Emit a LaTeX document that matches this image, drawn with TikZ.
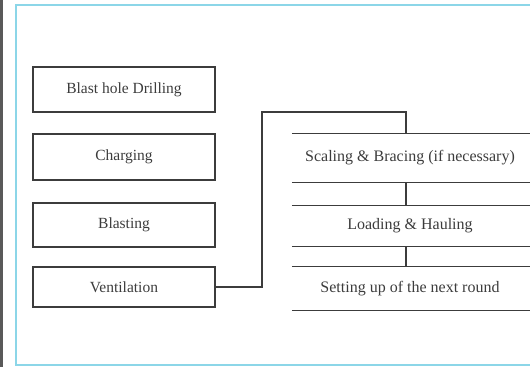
\documentclass[tikz,border=0pt]{standalone}
\usepackage{fontspec}
\setmainfont{Liberation Serif}
\definecolor{frame}{RGB}{140,214,232}
\definecolor{ink}{RGB}{60,60,60}
\begin{document}
\begin{tikzpicture}[x=1pt,y=-1pt,
  lbox/.style={draw=ink,line width=1.3pt,minimum width=182pt,inner sep=0pt,font=\fontsize{15.5}{17}\selectfont,text=ink},
  rbox/.style={inner sep=0pt,minimum width=236pt,font=\fontsize{16}{18}\selectfont,text=ink},
  rule/.style={draw=ink,line width=1.3pt},
  link/.style={draw=ink,line width=1.3pt}]
\useasboundingbox (0,0) rectangle (530,367);
\begin{scope}
\clip (0,0) rectangle (530,367);
\draw[draw=frame,line width=2pt] (16,5) rectangle (545,365);
\fill[gray!70!black] (0,0) rectangle (2.5,367);
% left column
\node[lbox,minimum height=45pt] (drill) at (124,89.5) {Blast hole Drilling};
\node[lbox,minimum height=46pt] (charge) at (124,157) {Charging};
\node[lbox,minimum height=44pt] (blast) at (124,225) {Blasting};
\node[lbox,minimum height=40pt] (vent) at (124,287) {Ventilation};
% right column
\node[rbox,minimum height=48pt] (scale) at (410,158) {Scaling \& Bracing (if necessary)};
\node[rbox,minimum height=40pt] (load) at (410,226) {Loading \& Hauling};
\node[rbox,minimum height=43pt] (setup) at (410,288.5) {Setting up of the next round};
\foreach \n in {scale,load,setup}{
  \draw[rule] (\n.north west) -- ([xshift=14pt]\n.north east);
  \draw[rule] (\n.south west) -- ([xshift=14pt]\n.south east);
}
% connectors
\coordinate (up) at (262,112);
\coordinate (drop) at (406,112);
\draw[link] (vent.east) -- (vent.east -| up) -- (up) -- (drop) -- (drop |- scale.north);
\draw[link] (drop |- scale.south) -- (drop |- load.north);
\draw[link] (drop |- load.south) -- (drop |- setup.north);
\end{scope}
\end{tikzpicture}
\end{document}
